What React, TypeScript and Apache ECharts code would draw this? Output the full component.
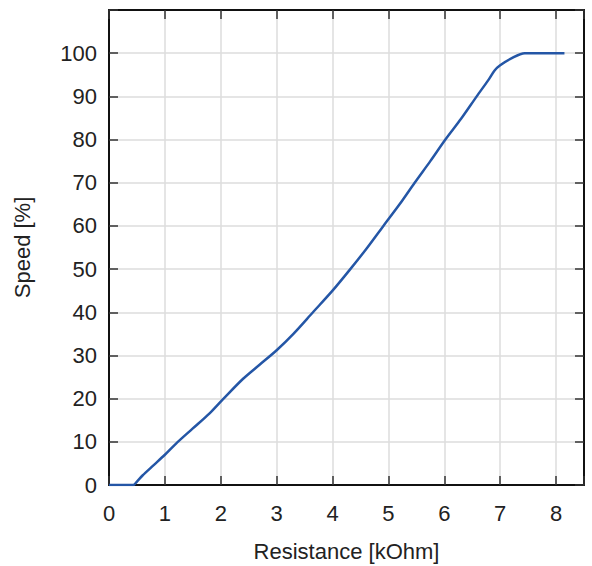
import React, { useEffect, useRef } from "react";
import * as echarts from "echarts";

const resistance = [0, 0.43, 0.5, 0.6, 0.8, 1.0, 1.2, 1.5, 1.8, 2.05, 2.4, 2.7, 3.0, 3.3, 3.65, 4.0, 4.3, 4.6, 4.91, 5.2, 5.47, 5.75, 6.02, 6.3, 6.58, 6.8, 6.9, 7.0, 7.2, 7.44, 8.15];
const speed = [0, 0, 0.8, 2.2, 4.6, 7.0, 9.6, 13.1, 16.6, 20, 24.6, 27.9, 31.2, 35.0, 40, 45, 49.7, 54.6, 60, 65, 70, 75, 80, 84.8, 90, 94, 96, 97.2, 98.8, 100, 100];

const xName = "Resistance [kOhm]";
const yName = "Speed [%]";

export default function App() {
  const ref = useRef<HTMLDivElement>(null);
  useEffect(() => {
    document.body.style.margin = "0";
    const chart = echarts.init(ref.current!, null, { renderer: "svg" });
    const font = "Liberation Sans";
    const fs = 22;
    const tick = { show: true, inside: true, length: 9, lineStyle: { color: "#333", width: 1.5 } };
    const frame = { show: true, onZero: false, lineStyle: { color: "#111", width: 2 } };
    const xBase = { type: "value" as const, min: 0, max: 8.5, interval: 1 };
    const yBase = { type: "value" as const, min: 0, max: 110, interval: 10 };
    chart.setOption({
      animation: false,
      textStyle: { fontFamily: font, fontSize: fs },
      grid: { left: 109, right: 8, top: 10, bottom: 81, show: false, containLabel: false, outerBoundsMode: "none" },
      xAxis: [
        {
          ...xBase,
          position: "bottom",
          name: xName,
          nameLocation: "middle",
          nameGap: 55,
          nameTextStyle: { fontFamily: font, fontSize: fs, color: "#222" },
          axisLine: frame,
          axisTick: tick,
          axisLabel: {
            fontFamily: font, fontSize: fs, color: "#222", margin: 17,
            formatter: (v: number) => (Number.isInteger(v) ? String(v) : ""),
          },
          splitLine: { show: true, lineStyle: { color: "#dcdcdc", width: 1.5 } },
        },
        {
          ...xBase,
          position: "top",
          axisLine: frame,
          axisTick: tick,
          axisLabel: { show: false },
          splitLine: { show: false },
        },
      ],
      yAxis: [
        {
          ...yBase,
          position: "left",
          name: yName,
          nameLocation: "middle",
          nameGap: 76,
          nameRotate: 90,
          nameTextStyle: { fontFamily: font, fontSize: fs, color: "#222" },
          axisLine: frame,
          axisTick: tick,
          axisLabel: {
            fontFamily: font, fontSize: fs, color: "#222", margin: 12,
            formatter: (v: number) => (v <= 100 ? String(v) : ""),
          },
          splitLine: { show: true, lineStyle: { color: "#dcdcdc", width: 1.5 } },
        },
        {
          ...yBase,
          position: "right",
          axisLine: frame,
          axisTick: tick,
          axisLabel: { show: false },
          splitLine: { show: false },
        },
      ],
      series: [
        {
          type: "line",
          data: resistance.map((x, i) => [x, speed[i]]),
          showSymbol: false,
          smooth: 0.3,
          lineStyle: { color: "#2456a6", width: 2.5 },
        },
      ],
    });
    return () => chart.dispose();
  }, []);
  return <div ref={ref} style={{ width: 592, height: 566 }} />;
}
